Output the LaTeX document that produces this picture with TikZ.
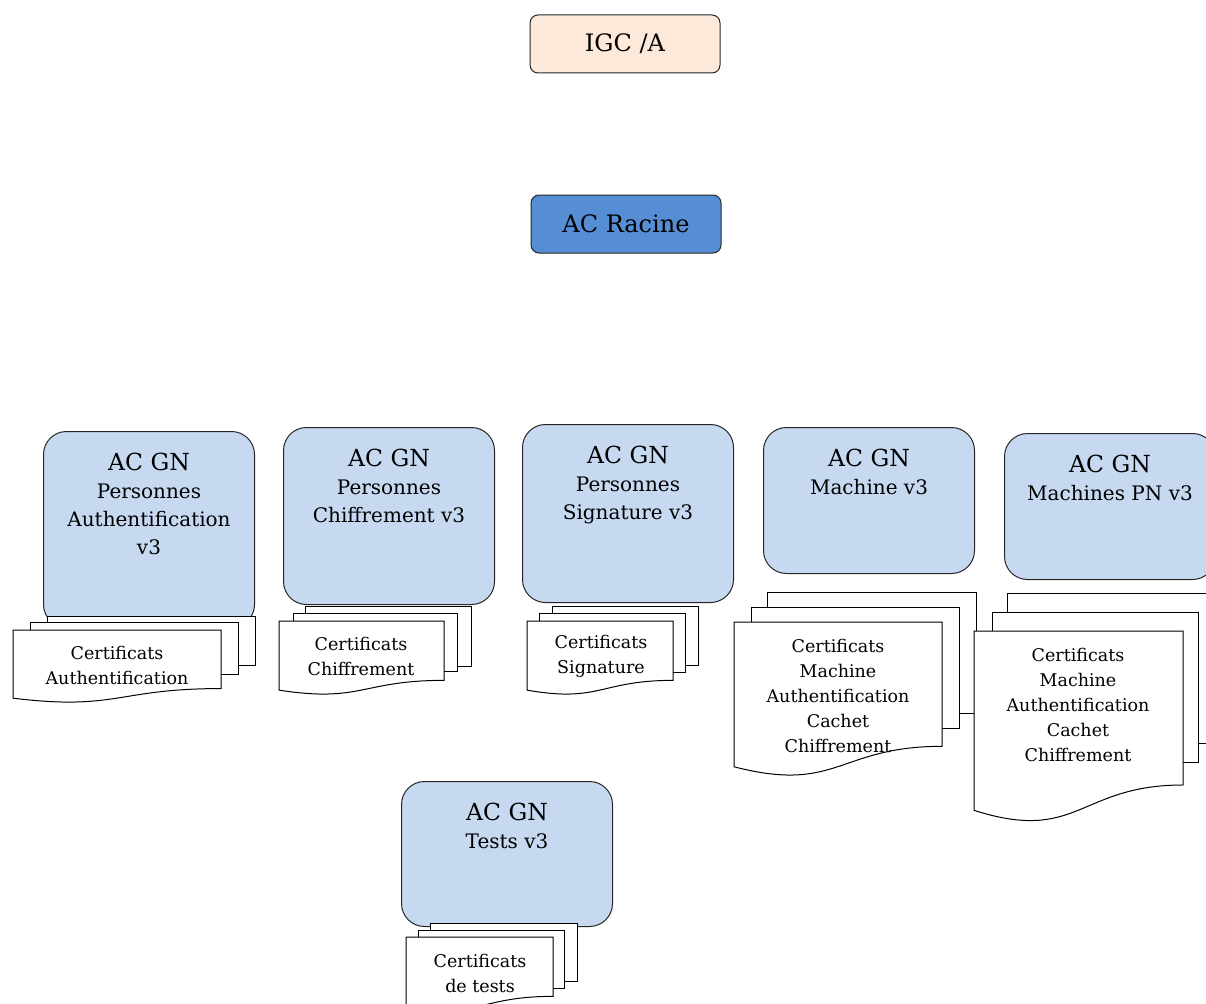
\documentclass[tikz,border=0pt]{standalone}
\usepackage{fontspec}
\setmainfont{DejaVu Serif}
\usetikzlibrary{positioning}

\definecolor{igcfill}{HTML}{FDE9D9}
\definecolor{racinefill}{HTML}{558ED5}
\definecolor{acfill}{HTML}{C6D9F1}

\tikzset{
	topbox/.style={draw=black!85, line width=1pt, rounded corners=8pt, minimum width=190pt, minimum height=58pt, font=\fontsize{24}{28}\selectfont},
	acbox/.style={draw=black!85, line width=1pt, fill=acfill, rounded corners=23pt, minimum width=211pt, anchor=north west},
	actext/.style={align=center, inner sep=0pt, anchor=north, font=\fontsize{20}{28}\selectfont},
	page/.style={draw=black, line width=1pt, fill=white},
	doctext/.style={align=center, inner sep=0pt, font=\fontsize{17.5}{25}\selectfont},
}

% left, top, width, height of the front page
\newcommand{\frontpage}[4]{%
	\draw[page] (#1,#2) -- ({#1+#3},#2) -- ({#1+#3},{#2+0.802*#4})
		.. controls ({#1+0.5*#3},{#2+0.802*#4}) and ({#1+0.5*#3},{#2+1.1075*#4}) .. (#1,{#2+0.934*#4}) -- cycle;
}

\newcommand{\acgn}{{\fontsize{23.5}{30}\selectfont AC GN}}

\begin{document}
\begin{tikzpicture}[x=1pt, y=-1pt]

		\useasboundingbox (0,0) rectangle (1206,1003);
		\clip (0,0) rectangle (1206,1003);

		\node[topbox, fill=igcfill] (igc) at (625,44) {IGC /A};
		\node[topbox, fill=racinefill] (racine) at (626,224) {AC Racine};

		% autorites
		\node[acbox, minimum height=196pt] (persauth) at (43,431) {};
		\node[actext, below=22pt of persauth.north] (persauthtxt) {\acgn\\Personnes\\Authentification\\v3};

		\node[acbox, minimum height=177pt] (perschif) at (283,427) {};
		\node[actext, below=22pt of perschif.north] (perschiftxt) {\acgn\\Personnes\\Chiffrement v3};

		\node[acbox, minimum height=178pt] (perssign) at (522,424) {};
		\node[actext, below=22pt of perssign.north] (perssigntxt) {\acgn\\Personnes\\Signature v3};

		\node[acbox, minimum height=146pt] (machine) at (763,427) {};
		\node[actext, below=22pt of machine.north] (machinetxt) {\acgn\\Machine v3};

		\node[acbox, minimum height=146pt] (machpn) at (1004,433) {};
		\node[actext, below=22pt of machpn.north] (machpntxt) {\acgn\\Machines PN v3};

		\node[acbox, minimum height=145pt] (tests) at (401,781) {};
		\node[actext, below=22pt of tests.north] (teststxt) {\acgn\\Tests v3};

		% certificats
		\draw[page] (47,616) rectangle (255,665);
		\draw[page] (30,622) rectangle (238,674);
		\frontpage{13}{630}{208}{73}
		\node[doctext] (certauth) at (117,665.5) {Certificats\\Authentification};

		\draw[page] (305,606) rectangle (471,666);
		\draw[page] (293,613) rectangle (457,671);
		\frontpage{279}{621}{165}{74}
		\node[doctext] (certchif) at (361,656.5) {Certificats\\Chiffrement};

		\draw[page] (552,606) rectangle (698,665);
		\draw[page] (539,613) rectangle (685,672);
		\frontpage{527}{621}{146}{74}
		\node[doctext] (certsign) at (601,656.5) {Certificats\\Signature};

		\draw[page] (767,592) rectangle (976,713);
		\draw[page] (751,607) rectangle (959,728);
		\frontpage{734}{622}{208}{155}
		\node[doctext] (certmach) at (838,696) {Certificats\\Machine\\Authentification\\Cachet\\Chiffrement};

		\draw[page] (1007,593) rectangle (1215,743);
		\draw[page] (992,612) rectangle (1198,762);
		\frontpage{974}{631}{209}{192}
		\node[doctext] (certmachpn) at (1078,704.5) {Certificats\\Machine\\Authentification\\Cachet\\Chiffrement};

		\draw[page] (430,923) rectangle (577,981);
		\draw[page] (418,930) rectangle (564,988);
		\frontpage{406}{937}{147}{74}
		\node[doctext] (certtests) at (480,973.5) {Certificats\\de tests};

	\end{tikzpicture}
\end{document}
